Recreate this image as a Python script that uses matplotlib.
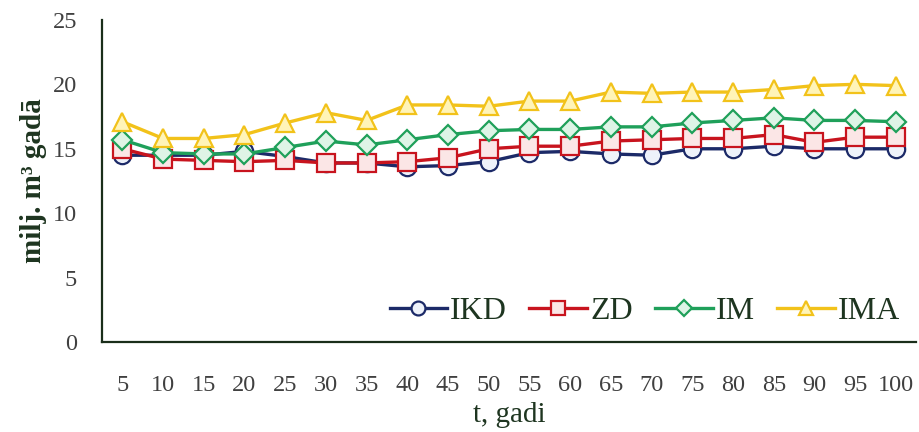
"""
Line chart: annual volume (milj. m3 gadā) per scenario over time.
"""

import matplotlib

matplotlib.use("Agg")
import matplotlib.pyplot as plt

OUTPUT_PATH = "out.png"

YEARS = ["5", "10", "15", "20", "25", "30", "35", "40", "45", "50",
         "55", "60", "65", "70", "75", "80", "85", "90", "95", "100"]

IKD = [14.5, 14.5, 14.5, 14.8, 14.4, 13.9, 13.9, 13.6, 13.7, 14.0,
       14.7, 14.8, 14.6, 14.5, 15.0, 15.0, 15.2, 15.0, 15.0, 15.0]
ZD = [15.0, 14.2, 14.1, 14.0, 14.1, 13.9, 13.9, 14.0, 14.3, 15.0,
      15.2, 15.2, 15.6, 15.7, 15.8, 15.8, 16.1, 15.5, 15.9, 15.9]
IM = [15.7, 14.7, 14.6, 14.6, 15.1, 15.6, 15.3, 15.7, 16.1, 16.4,
      16.5, 16.5, 16.7, 16.7, 17.0, 17.2, 17.4, 17.2, 17.2, 17.1]
IMA = [17.1, 15.8, 15.8, 16.1, 17.0, 17.8, 17.2, 18.4, 18.4, 18.3,
       18.7, 18.7, 19.4, 19.3, 19.4, 19.4, 19.6, 19.9, 20.0, 19.9]

SERIES = [
    ("IKD", IKD, "o", "#1c2a68", "#eef2fa"),
    ("ZD", ZD, "s", "#c8141e", "#fbe6e6"),
    ("IM", IM, "D", "#1fa05a", "#def4e6"),
    ("IMA", IMA, "^", "#f2c21a", "#fff4b8"),
]

TEXT_COLOR = "#1e3520"
TICK_COLOR = "#404040"


def main() -> None:
    plt.rcParams["font.family"] = ["Liberation Serif", "DejaVu Serif"]

    fig = plt.figure(figsize=(9.19, 4.32), dpi=100)
    ax = fig.add_axes([0.111, 0.208, 0.886, 0.746])

    x = list(range(len(YEARS)))
    for name, values, marker, color, face in SERIES:
        ms = 10 if marker == "D" else 12.5
        ax.plot(x, values, color=color, linewidth=2.4, marker=marker,
                markersize=ms, markerfacecolor=face, markeredgecolor=color,
                markeredgewidth=1.6, label=name)

    ax.set_xlim(-0.5, len(YEARS) - 0.5)
    ax.set_ylim(0, 25)
    ax.set_yticks([0, 5, 10, 15, 20, 25])
    ax.set_xticks(x)
    ax.set_xticklabels(YEARS)
    ax.tick_params(axis="both", length=0, labelsize=17.5, colors=TICK_COLOR)
    ax.tick_params(axis="x", pad=24)
    ax.tick_params(axis="y", pad=18)

    for side in ("top", "right"):
        ax.spines[side].set_visible(False)
    for side in ("left", "bottom"):
        ax.spines[side].set_color("#1a2e1a")
        ax.spines[side].set_linewidth(1.6)

    ax.set_xlabel("t, gadi", fontsize=21, color=TEXT_COLOR, labelpad=4)
    ax.set_ylabel("milj. m³ gadā", fontsize=21, fontweight="bold",
                  color=TEXT_COLOR, labelpad=4)

    leg = ax.legend(loc="lower right", ncol=4, frameon=False, fontsize=23,
                    handlelength=1.8, columnspacing=0.7, handletextpad=0.1,
                    borderaxespad=0.1, markerscale=0.8)
    for text in leg.get_texts():
        text.set_color(TEXT_COLOR)

    fig.savefig(OUTPUT_PATH, dpi=100)
    plt.close(fig)


if __name__ == "__main__":
    main()
